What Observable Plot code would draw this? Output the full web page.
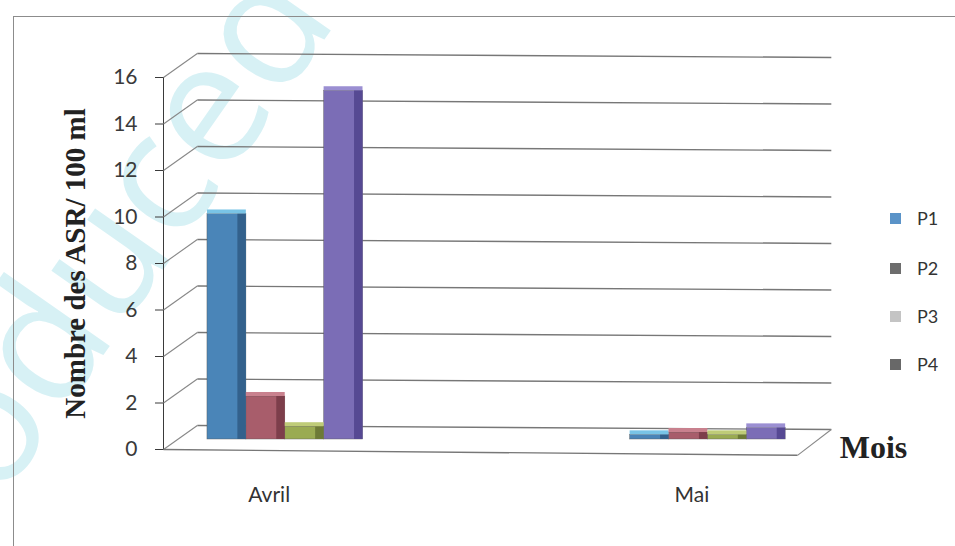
<!DOCTYPE html>
<html>
<head>
<meta charset="utf-8">
<script src="https://cdn.jsdelivr.net/npm/d3@7"></script>
<script src="https://cdn.jsdelivr.net/npm/@observablehq/plot@0.6"></script>
<style>
  html, body { margin: 0; padding: 0; background: #fff; }
  #wrap { position: relative; width: 955px; height: 546px; overflow: hidden; background: #fff; }
  #border { position: absolute; left: 13px; top: 16px; width: 960px; height: 560px;
            border-left: 1.5px solid #8c8c8c; border-top: 1.5px solid #8c8c8c; }
  #stamp { position: absolute; left: 0; top: 0; }
  #chart { position: absolute; left: 0; top: 0; }
  #legend { position: absolute; left: 890px; top: 0; font: 18px Lato, sans-serif; color: #333; }
  #legend .item { position: absolute; left: 0; display: flex; align-items: center; white-space: nowrap; }
  #legend .sw { width: 11px; height: 11px; margin-right: 16px; }
</style>
</head>
<body>
<div id="wrap">
  <svg id="stamp" width="955" height="546">
    <text transform="translate(-40,560) rotate(-55)" font-family="Open Sans" font-size="170" fill="#d7f1f5">roduced</text>
  </svg>
  <div id="border"></div>
  <div id="chart"></div>
  <div id="legend"></div>
</div>
<script>
// Nombre des ASR / 100 ml par point de prélèvement et par mois
const months = ["Avril", "Mai"];
const series = ["P1", "P2", "P3", "P4"];
const valuesAvril = [9.7, 1.85, 0.55, 15.0];
const valuesMai = [0.2, 0.3, 0.2, 0.5];
const yTicks = [0, 2, 4, 6, 8, 10, 12, 14, 16];

const frontColors = ["#4a85b8", "#a85d6b", "#9aab52", "#7b6db6"];
const sideColors  = ["#33618c", "#7d3e4b", "#6d7a36", "#564993"];
const topColors   = ["#79c4e6", "#c9818e", "#bfcc78", "#9b8fd2"];
const legendColors = ["#5a93c8", "#6d6d6d", "#c4c4c4", "#686868"];

// one row per month × point
const rows = months.flatMap((m, mi) =>
  series.map((s, si) => ({month: m, mi, series: s, si, value: [valuesAvril, valuesMai][mi][si]}))
);

// pseudo‑3D layout, in category units (x) and value units (y)
const xMin = -0.25, xMax = 1.25;       // floor extent around the two months
const depthX = 0.08, depthY = 1.03;    // back wall offset
const gridDrop = 0.17;                 // slight perspective fall of the back grid
const barStart = -0.146, barW = 0.092, sideW = 0.02;
const barLift = -10;                   // bars stand a little behind the front edge

const x1 = d => d.mi + barStart + d.si * barW;
const x2 = d => x1(d) + barW;

const chart = Plot.plot({
  width: 955,
  height: 546,
  marginLeft: 163,
  marginRight: 158,
  marginTop: 77,
  marginBottom: 97,
  style: {background: "transparent", fontFamily: "Lato, sans-serif", fontSize: "21px", color: "#3a3a3a"},
  x: {domain: [xMin, xMax], axis: null},
  y: {domain: [0, 16], ticks: yTicks, tickSize: 8, tickPadding: 18, line: true, label: null},
  marks: [
    // back wall grid
    Plot.link(yTicks, {x1: xMin + depthX, x2: xMax + depthX, y1: d => d + depthY, y2: d => d + depthY - gridDrop,
      stroke: "#777", strokeWidth: 1.4}),
    // connectors from the front axis to the back wall
    Plot.link(yTicks, {x1: xMin, y1: d => d, x2: xMin + depthX, y2: d => d + depthY, stroke: "#888", strokeWidth: 1.1}),
    // floor edges
    Plot.link([0], {x1: xMin, y1: 0, x2: xMax, y2: -0.25, stroke: "#777", strokeWidth: 1.4}),
    Plot.link([0], {x1: xMax, y1: -0.25, x2: xMax + depthX, y2: depthY - gridDrop, stroke: "#888", strokeWidth: 1.1}),
    // bars: front face, side shading, top cap
    Plot.rect(rows, {x1, x2, y1: 0, y2: "value", dy: barLift, fill: d => frontColors[d.si],
      stroke: "#555", strokeWidth: 0.6, strokeOpacity: 0.7}),
    Plot.rect(rows, {x1: d => x2(d) - sideW, x2, y1: 0, y2: "value", dy: barLift, fill: d => sideColors[d.si]}),
    Plot.rect(rows, {x1, x2, y1: "value", y2: "value", insetTop: -4, dy: barLift, fill: d => topColors[d.si]}),
    // month labels
    Plot.text(months, {x: (d, i) => i, y: 0, dy: 46, text: d => d, fontSize: 21, fill: "#333"}),
    // axis titles
    Plot.text(["Nombre des ASR/ 100 ml"], {frameAnchor: "left", textAnchor: "middle", dx: -88, rotate: -90, text: d => d,
      fontFamily: "Liberation Serif", fontWeight: "bold", fontSize: 29, fill: "#222"}),
    Plot.text(["Mois"], {frameAnchor: "bottom-right", textAnchor: "middle", dx: 76, dy: 8, text: d => d,
      fontFamily: "Liberation Serif", fontWeight: "bold", fontSize: 32, fill: "#222"})
  ]
});
document.getElementById("chart").append(chart);

// legend
const legendTops = [218, 268, 316, 364];
const legend = d3.select("#legend");
series.forEach((s, i) => {
  const item = legend.append("div").attr("class", "item").style("top", (legendTops[i] - 11) + "px");
  item.append("div").attr("class", "sw").style("background", legendColors[i]);
  item.append("span").text(s);
});
</script>
</body>
</html>
